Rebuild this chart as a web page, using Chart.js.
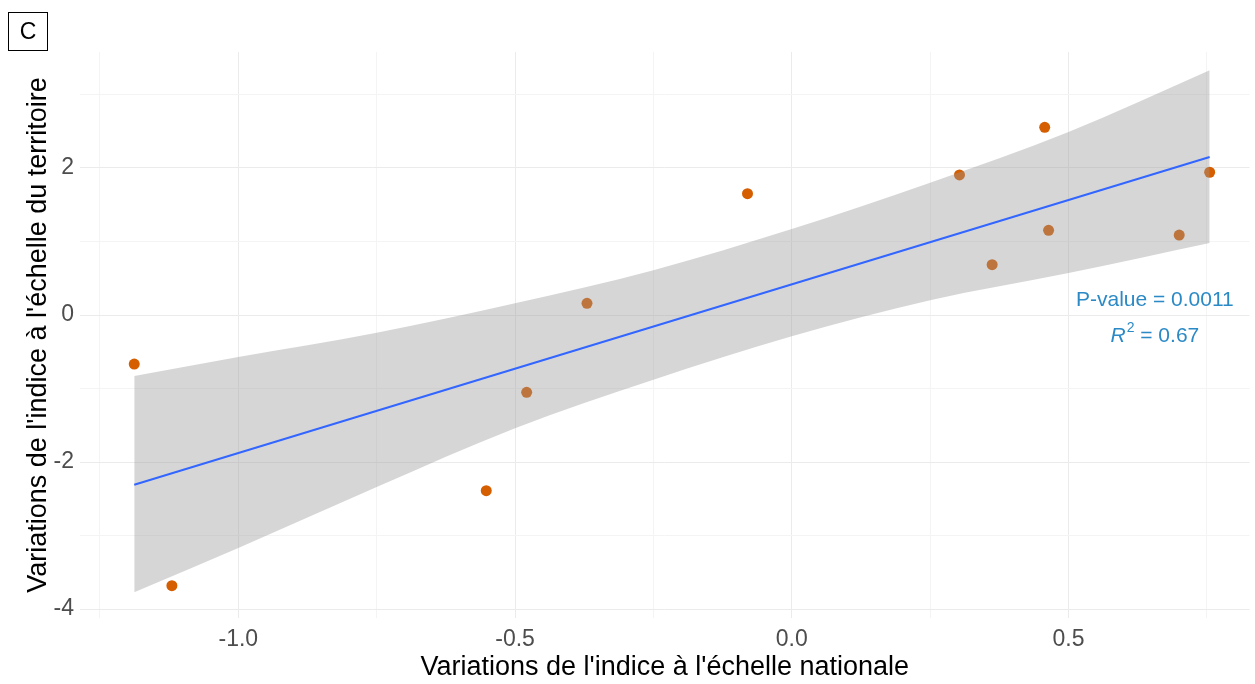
<!DOCTYPE html>
<html>
<head>
<meta charset="utf-8">
<script src="https://cdn.jsdelivr.net/npm/chart.js@4.4.1/dist/chart.umd.min.js"></script>
<style>
  html, body { margin: 0; padding: 0; background: #fff; }
  #wrap { position: relative; width: 1255px; height: 684px; }
  #panel {
    position: absolute; left: 8px; top: 12px; width: 38px; height: 37px;
    border: 1px solid #000; font: 23px "Liberation Sans", Arial, sans-serif;
    display: flex; align-items: center; justify-content: center; color: #000;
  }
</style>
</head>
<body>
<div id="wrap">
  <canvas id="chart" width="1255" height="684"></canvas>
  <div id="panel">C</div>
</div>
<script>
// observed points
const natVals = [-1.188, -1.120, -0.552, -0.479, -0.370, -0.080, 0.303, 0.362, 0.457, 0.464, 0.700, 0.755];
const terVals = [-0.667, -3.683, -2.390, -1.052, 0.159, 1.650, 1.905, 0.684, 2.554, 1.152, 1.088, 1.942];

// fitted line
const fitX = [-1.188, 0.755];
const fitY = [-2.31, 2.15];

// confidence band edges
const bandX = [-1.188, -1.0, -0.75, -0.5, -0.25, 0, 0.25, 0.5, 0.755];
const bandUpper = [-0.83, -0.57, -0.24, 0.16, 0.61, 1.17, 1.80, 2.49, 3.33];
const bandLower = [-3.77, -3.17, -2.34, -1.54, -0.88, -0.29, 0.20, 0.57, 0.98];

// ticks / grid
const xGrid = [-1.25, -1.0, -0.75, -0.5, -0.25, 0, 0.25, 0.5, 0.75];
const xMajor = [-1.0, -0.5, 0, 0.5];
const yGrid = [-4, -3, -2, -1, 0, 1, 2, 3];
const yMajor = [-4, -2, 0, 2];

const statLines = ["P-value = 0.0011", "0.67"];

const FONT = '"Liberation Sans", Arial, sans-serif';

const toPts = (xs, ys) => xs.map((x, i) => ({ x: x, y: ys[i] }));

const statLabel = {
  id: "statLabel",
  afterDatasetsDraw(chart) {
    const ctx = chart.ctx;
    const xs = chart.scales.x, ys = chart.scales.y;
    const cx = xs.getPixelForValue(0.656);
    const y1 = ys.getPixelForValue(0.204);
    const y2 = ys.getPixelForValue(-0.286);
    ctx.save();
    ctx.fillStyle = "#2b8ac6";
    ctx.textBaseline = "middle";
    ctx.font = "21px " + FONT;
    ctx.textAlign = "center";
    ctx.fillText(statLines[0], cx, y1);

    // R^2 = 0.67, italic R and a superscript 2
    const fR = "italic 21px " + FONT;
    const fSup = "14px " + FONT;
    const fN = "21px " + FONT;
    const rest = " = " + statLines[1];
    ctx.font = fR; const wR = ctx.measureText("R").width;
    ctx.font = fSup; const wS = ctx.measureText("2").width;
    ctx.font = fN; const wRest = ctx.measureText(rest).width;
    let x = cx - (wR + wS + 1 + wRest) / 2;
    ctx.textAlign = "left";
    ctx.font = fR; ctx.fillText("R", x, y2); x += wR + 1;
    ctx.font = fSup; ctx.fillText("2", x, y2 - 8); x += wS;
    ctx.font = fN; ctx.fillText(rest, x, y2);
    ctx.restore();
  }
};

new Chart(document.getElementById("chart"), {
  type: "scatter",
  data: {
    datasets: [
      {
        label: "band upper",
        data: toPts(bandX, bandUpper),
        showLine: true,
        borderWidth: 0,
        pointRadius: 0,
        cubicInterpolationMode: "monotone",
        backgroundColor: "rgba(153,153,153,0.4)",
        fill: "+1",
        order: 1
      },
      {
        label: "band lower",
        data: toPts(bandX, bandLower),
        showLine: true,
        borderWidth: 0,
        pointRadius: 0,
        cubicInterpolationMode: "monotone",
        fill: false,
        order: 1
      },
      {
        label: "fit",
        data: toPts(fitX, fitY),
        showLine: true,
        borderColor: "#3366ff",
        borderWidth: 2,
        pointRadius: 0,
        fill: false,
        order: 0
      },
      {
        label: "points",
        data: toPts(natVals, terVals),
        backgroundColor: "#d55e00",
        borderWidth: 0,
        pointRadius: 5.5,
        order: 2
      }
    ]
  },
  options: {
    responsive: false,
    animation: false,
    layout: { padding: { top: 52, right: 5, left: 0, bottom: 0 } },
    plugins: { legend: { display: false }, tooltip: { enabled: false } },
    scales: {
      x: {
        type: "linear",
        min: -1.286,
        max: 0.827,
        afterBuildTicks: (s) => { s.ticks = xGrid.map((v) => ({ value: v })); },
        afterFit: (s) => { s.height = 66; },
        border: { display: false },
        grid: {
          drawTicks: false,
          color: (c) => (c.tick && xMajor.includes(c.tick.value) ? "#ebebeb" : "#f4f4f4")
        },
        ticks: {
          autoSkip: false,
          maxRotation: 0,
          padding: 8,
          color: "#4d4d4d",
          font: { family: FONT, size: 23 },
          callback: (v) => (xMajor.includes(v) ? v.toFixed(1) : "")
        },
        title: {
          display: true,
          text: "Variations de l'indice à l'échelle nationale",
          color: "#000",
          font: { family: FONT, size: 27 },
          padding: { top: 0, bottom: 0 }
        }
      },
      y: {
        type: "linear",
        min: -4.122,
        max: 3.578,
        afterBuildTicks: (s) => { s.ticks = yGrid.map((v) => ({ value: v })); },
        afterFit: (s) => { s.width = 80; },
        border: { display: false },
        grid: {
          drawTicks: false,
          color: (c) => (c.tick && yMajor.includes(c.tick.value) ? "#ebebeb" : "#f4f4f4")
        },
        ticks: {
          autoSkip: false,
          padding: 6,
          color: "#4d4d4d",
          font: { family: FONT, size: 23 },
          callback: (v) => (yMajor.includes(v) ? String(v) : "")
        },
        title: {
          display: true,
          text: "Variations de l'indice à l'échelle du territoire",
          color: "#000",
          font: { family: FONT, size: 27 },
          padding: { top: 22, bottom: 0 }
        }
      }
    }
  },
  plugins: [statLabel]
});
</script>
</body>
</html>
